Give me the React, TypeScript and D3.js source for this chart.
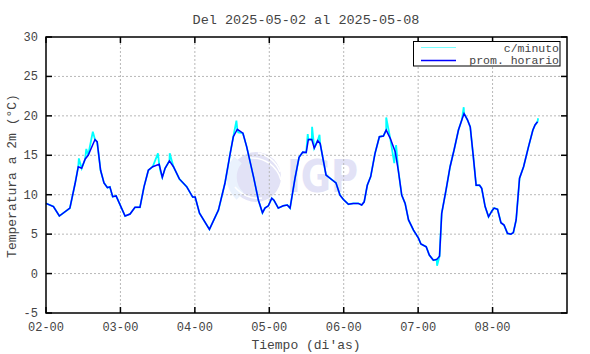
import * as d3 from 'd3'

// hourly average (prom. horario): hours since 2025-05-02 00:00, temperature in °C
const hourlyH = [0, 2.4, 4.3, 7.7, 9.4, 10.4, 11.5, 12.6, 13.6, 15.8,
  16.5, 17.6, 18.7, 19.8, 20.6, 21.5, 22.6, 25.5, 27.1, 28.7,
  30.3, 31.6, 33.0, 34.4, 36.5, 37.5, 38.4, 39.8, 41.1, 43.0,
  45.4, 47.3, 48.1, 49.5, 52.7, 55.6, 57.7, 59.4, 60.4, 61.7,
  63.5, 64.7, 66.9, 68.5, 69.8, 70.6, 71.7, 72.8, 73.5, 74.9,
  76.5, 77.8, 78.7, 80.3, 81.6, 82.8, 83.9, 84.6, 85.7, 86.5,
  87.6, 88.4, 90.3, 92.2, 93.5, 94.8, 95.9, 97.5, 99.1, 100.7,
  101.8, 102.6, 103.6, 104.7, 106.1, 107.5, 108.8, 109.7, 111.0, 112.6,
  113.6, 114.7, 115.8, 116.9, 118.5, 120.1, 120.9, 122.6, 123.6, 124.9,
  126.0, 126.9, 127.6, 129.0, 130.3, 131.6, 133.0, 134.1, 134.8, 135.9,
  136.8, 137.8, 138.7, 139.8, 140.5, 141.6, 142.7, 143.8, 144.5, 145.6,
  146.7, 147.7, 148.8, 149.9, 150.7, 151.6, 152.7, 154.0, 155.6, 157.0,
  157.7, 158.5]
const hourlyT = [8.9, 8.5, 7.3, 8.3, 11.45, 13.55, 13.35, 14.5, 15.0, 17.0,
  16.7, 13.1, 11.5, 10.9, 11.0, 9.75, 9.85, 7.3, 7.55, 8.4,
  8.4, 11.0, 13.1, 13.55, 13.85, 12.2, 13.35, 14.3, 13.55, 12.0,
  11.0, 9.7, 9.7, 7.65, 5.6, 8.05, 11.45, 15.25, 17.35, 18.3,
  17.8, 16.1, 12.3, 9.3, 7.7, 8.3, 8.6, 9.55, 9.3, 8.3,
  8.6, 8.7, 8.3, 12.1, 14.75, 15.4, 15.35, 17.0, 17.0, 15.9,
  16.85, 16.5, 12.5, 11.9, 11.5, 9.95, 9.4, 8.8, 8.9, 8.9,
  8.7, 9.1, 11.2, 12.3, 15.25, 17.35, 17.45, 18.2, 17.15, 15.45,
  13.1, 9.95, 8.9, 6.8, 5.5, 4.5, 3.75, 3.4, 2.35, 1.7,
  1.8, 2.2, 7.65, 10.6, 13.55, 15.7, 18.2, 19.5, 20.3, 19.5,
  18.6, 14.8, 11.2, 11.2, 10.8, 8.5, 7.2, 7.95, 8.3, 8.15,
  6.45, 6.15, 5.1, 5.0, 5.2, 6.8, 12.1, 13.55, 16.1, 18.2,
  18.85, 19.25]

// per-minute readings that stick out of the hourly curve (c/minuto)
const minuteSpikeH = [10.6, 13.0, 15.1, 36.1, 36.9, 39.9, 61.4, 62.0, 84.4, 85.8, 88.2, 109.7, 112.3, 112.9, 126.1, 134.7, 158.7]
const minuteSpikeT = [14.6, 15.8, 18.0, 15.25, 13.0, 15.25, 19.4, 17.9, 17.7, 18.6, 17.6, 19.8, 14.0, 16.3, 1.0, 21.1, 19.7]

const yTicks = [-5, 0, 5, 10, 15, 20, 25, 30]
const dayTicks = ['02-00', '03-00', '04-00', '05-00', '06-00', '07-00', '08-00']

const font = '"Liberation Mono", "DejaVu Sans Mono", monospace'
const textColor = '#444'

export default function App() {
  const W = 590, H = 354
  const m = { top: 37, right: 23, bottom: 41, left: 46 }
  const x = d3.scaleLinear().domain([0, 168]).range([m.left, W - m.right])
  const y = d3.scaleLinear().domain([-5, 30]).range([H - m.bottom, m.top])
  const x0 = x.range()[0], x1 = x.range()[1]
  const y0 = y.range()[0], y1 = y.range()[1]

  const hourly: [number, number][] = hourlyH.map((h, i) => [h, hourlyT[i]])
  const minute: [number, number][] = hourly
    .concat(minuteSpikeH.map((h, i) => [h, minuteSpikeT[i]] as [number, number]))
    .sort((a, b) => a[0] - b[0])

  const line = d3.line<[number, number]>().x(d => x(d[0])).y(d => y(d[1]))

  const tickLen = 6

  return (
    <svg width={W} height={H} style={{ position: 'absolute', left: 0, top: 0, background: '#fff' }}
      fontFamily={font}>
      {/* IGP watermark */}
      <g>
        <circle cx={256} cy={177} r={25} fill="#e2e2f6" />
        <path d="M238,160 A26,26 0 0 0 240,196" fill="none" stroke="#eaf2fd" strokeWidth={10} />
        <path d="M258,153 A30,30 0 0 1 280,172" fill="none" stroke="#fff" strokeWidth={1.5} />
        <path d="M250,158 A30,30 0 0 1 281,180" fill="none" stroke="#fff" strokeWidth={1.5} />
        <path d="M235,187 A30,30 0 0 0 262,198" fill="none" stroke="#fff" strokeWidth={1.5} />
        <text x={287} y={192} fontFamily='"DejaVu Sans", sans-serif' fontWeight="bold" fontSize={44}
          textLength={71} lengthAdjust="spacingAndGlyphs" fill="#e2e2f6">IGP</text>
      </g>

      {/* grid */}
      <g stroke="#b8b8b8" strokeWidth={1} strokeDasharray="2,2">
        {dayTicks.map((_, i) => i > 0 && (
          <line key={i} x1={x(i * 24)} x2={x(i * 24)} y1={y0} y2={y1} />
        ))}
        {yTicks.slice(1, -1).map(t => (
          <line key={t} x1={x0} x2={x1} y1={y(t)} y2={y(t)} />
        ))}
      </g>

      {/* data */}
      <path d={line(minute) ?? ''} fill="none" stroke="#00ffff" strokeWidth={1.8} />
      <path d={line(hourly) ?? ''} fill="none" stroke="#0000ff" strokeWidth={1.5} />

      {/* border and ticks */}
      <rect x={x0} y={y1} width={x1 - x0} height={y0 - y1} fill="none" stroke="#000" strokeWidth={1.5} />
      <g stroke="#000" strokeWidth={1.5}>
        {dayTicks.map((_, i) => (
          <g key={i}>
            <line x1={x(i * 24)} x2={x(i * 24)} y1={y0} y2={y0 - tickLen} />
            <line x1={x(i * 24)} x2={x(i * 24)} y1={y1} y2={y1 + tickLen} />
          </g>
        ))}
        {yTicks.map(t => (
          <g key={t}>
            <line x1={x0} x2={x0 + tickLen} y1={y(t)} y2={y(t)} />
            <line x1={x1} x2={x1 - tickLen} y1={y(t)} y2={y(t)} />
          </g>
        ))}
      </g>

      {/* tick labels */}
      <g fontSize={12} fill={textColor}>
        {dayTicks.map((d, i) => (
          <text key={d} x={x(i * 24)} y={331} textAnchor="middle">{d}</text>
        ))}
        {yTicks.map(t => (
          <text key={t} x={38} y={y(t) + 4} textAnchor="end">{t}</text>
        ))}
      </g>

      {/* titles */}
      <text x={306} y={24} textAnchor="middle" fontSize={13.5} fill={textColor}>Del 2025-05-02 al 2025-05-08</text>
      <text x={306} y={349} textAnchor="middle" fontSize={13} fill={textColor}>Tiempo (di'as)</text>
      <text transform="translate(16,176) rotate(-90)" textAnchor="middle" fontSize={13} fill={textColor}>Temperatura a 2m (°C)</text>

      {/* legend */}
      <rect x={413.5} y={41.5} width={146.5} height={24.5} fill="#fff" stroke="#000" strokeWidth={1} />
      <line x1={421} x2={456} y1={47.5} y2={47.5} stroke="#7ff" strokeWidth={1} />
      <line x1={421} x2={456} y1={60.5} y2={60.5} stroke="#0000ff" strokeWidth={1.5} />
      <text x={559} y={51.5} textAnchor="end" fontSize={11.5} fill={textColor}>c/minuto</text>
      <text x={559} y={63.5} textAnchor="end" fontSize={11.5} fill={textColor}>prom. horario</text>
    </svg>
  )
}
